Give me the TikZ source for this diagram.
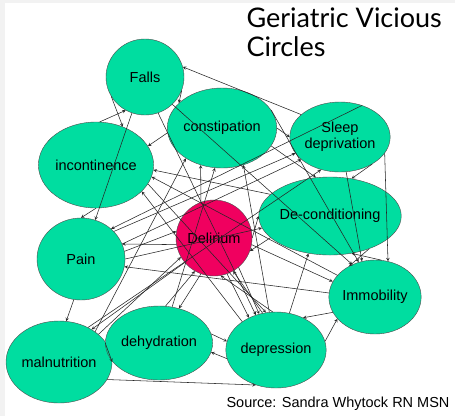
\documentclass[tikz,border=0pt]{standalone}
\usepackage{fontspec}
\setmainfont{Liberation Sans}
\newfontfamily\titlefont{Lato}
\usepackage{xcolor}
\usepackage{tikz}
\usetikzlibrary{shapes.geometric,arrows}

\definecolor{mint}{RGB}{0,221,160}
\definecolor{delirred}{RGB}{240,0,95}

\begin{document}
\begin{tikzpicture}[x=1pt,y=-1pt,>=stealth]
\tikzstyle{every node}=[font=\fontsize{14.5}{16}\selectfont];
\tikzstyle{problem}=[ellipse,draw=black!70,fill=mint,inner sep=0pt,align=center];
\tikzstyle{link}=[->,draw=black!85,line width=0.55pt];

% frame
\fill[black!5] (0,0) rectangle (455,416);
\fill[white] (5,3) rectangle (455,416);
\useasboundingbox (0,0) rectangle (455,416);

% title
\node[anchor=north west,align=left,font=\titlefont\fontsize{27}{29}\selectfont] (title) at (243,4) {Geriatric Vicious\\Circles};

% circles
\node[problem,minimum width=78pt,minimum height=76pt] (falls) at (145,77) {Falls};
\node[problem,minimum width=84pt,minimum height=80pt] (constip) at (222,128) {constipation};
\node[problem,minimum width=80pt,minimum height=70pt] (sleep) at (340,137) {Sleep\\deprivation};
\node[problem,minimum width=84pt,minimum height=86pt] (incont) at (96,165) {incontinence};
\node[problem,minimum width=104pt,minimum height=78pt] (decond) at (330,216) {De-conditioning};
\node[problem,fill=delirred,minimum width=76pt,minimum height=76pt] (delirium) at (214,238) {Delirium};
\node[problem,minimum width=88pt,minimum height=82pt] (pain) at (81,259) {Pain};
\node[problem,minimum width=84pt,minimum height=74pt] (immob) at (375,297) {Immobility};
\node[problem,minimum width=92pt,minimum height=82pt] (malnut) at (59,362) {malnutrition};
\node[problem,minimum width=78pt,minimum height=74pt] (dehyd) at (159,343) {dehydration};
\node[problem,minimum width=82pt,minimum height=76pt] (depress) at (276,350) {depression};

% upper links
\foreach \a/\b in {sleep.150/falls.15, falls.-20/constip.150, falls.210/incont.55,
	incont.85/falls.240, falls.-70/depress.120, falls.250/pain.70, falls.-45/immob.125,
	constip.185/incont.20, constip.0/sleep.180, constip.-20/decond.110, constip.20/immob.115,
	delirium.110/constip.-120, depress.100/constip.-60, dehyd.70/constip.-100, malnut.40/constip.-140}
	\draw[link] (\a) -- (\b);

% sleep and incontinence
\foreach \a/\b in {pain.40/sleep.200, pain.20/sleep.-150, malnut.50/sleep.-120,
	sleep.-40/decond.60, sleep.-20/immob.70, sleep.-80/immob.110, sleep.55/pain.45,
	decond.160/incont.-5, depress.140/incont.-30, incont.-90/pain.90, incont.-20/depress.105,
	immob.150/incont.-12}
	\draw[link] (\a) -- (\b);

% delirium
\foreach \a/\b in {delirium.0/decond.180, decond.200/delirium.-20, depress.110/delirium.-60,
	depress.95/delirium.-80, delirium.-70/depress.130, delirium.-50/depress.115,
	delirium.-110/dehyd.60, delirium.-140/malnut.45, delirium.190/pain.20, pain.10/delirium.170,
	delirium.-10/immob.160, dehyd.80/delirium.-120, malnut.35/delirium.-150}
	\draw[link] (\a) -- (\b);

% lower links
\foreach \a/\b in {immob.175/pain.-10, pain.-100/malnut.80, pain.0/decond.190,
	dehyd.180/malnut.0, dehyd.10/depress.170, depress.190/dehyd.-10, malnut.-20/depress.-120,
	immob.200/depress.50, depress.10/immob.-150, depress.70/decond.-120, immob.80/decond.-60,
	decond.-40/immob.130}
	\draw[link] (\a) -- (\b);

% source
\node[anchor=south east] (source) at (453,414) {Source: Sandra Whytock RN MSN};
\end{tikzpicture}
\end{document}
